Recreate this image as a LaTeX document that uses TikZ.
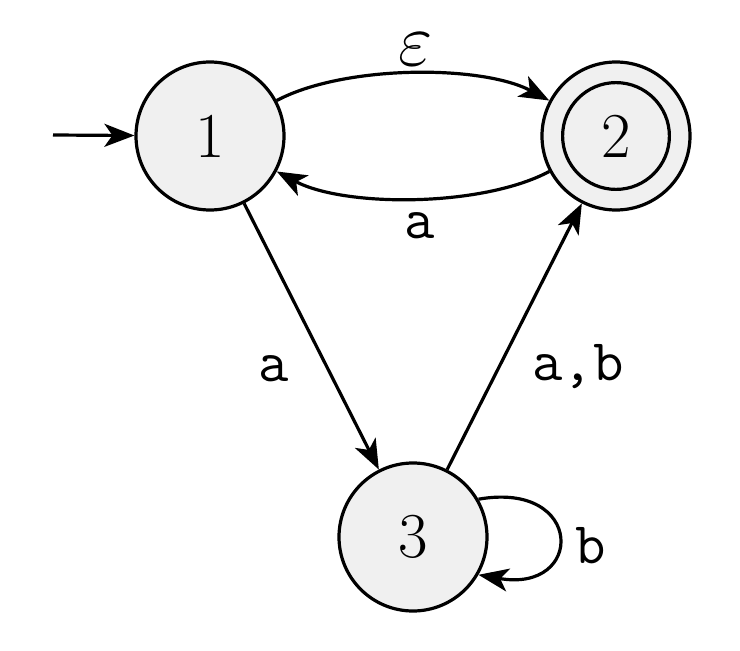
\documentclass[tikz,border=0pt]{standalone}
\usepackage{graphicx}
\usetikzlibrary{arrows.meta}
\definecolor{statefill}{RGB}{240,240,240}
\begin{document}
\begin{tikzpicture}[x=0.5pt,y=0.5pt,
  stateshape/.style={circle,draw,line width=1.6pt,fill=statefill,minimum size=74pt,inner sep=0pt,font=\fontsize{32}{38}\selectfont},
  edgelabel/.style={anchor=base,font=\fontsize{29.5}{34}\selectfont\ttfamily},
  arr/.style={line width=1.6pt,-{Stealth[length=15pt,width=11.5pt,inset=4pt]}}]
\useasboundingbox (0,0) rectangle (740,650);
\node[stateshape] (s1) at (210,514) {1};
\node[stateshape] (s2) at (616,514) {2};
\node[stateshape] (s3) at (413,113) {3};
\draw[line width=1.6pt] (s2.center) circle[radius=26.7pt];
\coordinate (init) at (53,515);
\draw[arr] (init) -- (s1);
\draw[arr] (s1) to[out=28,in=152,looseness=0.72] (s2);
\draw[arr] (s2) to[out=-152,in=-28,looseness=0.72] (s1);
\draw[arr] (s1) -- (s3);
\draw[arr] (s3) -- (s2);
\draw[arr] (s3.30) .. controls +(10:108) and +(-10:108) .. (s3.-30);
\node[edgelabel] (leps) at (416,585) {\scalebox{1.5}{$\varepsilon$}};
\node[edgelabel] (la1) at (420,412) {a};
\node[edgelabel] (la2) at (274,269) {a};
\node[edgelabel] (lab) at (578,270) {a,b};
\node[edgelabel] (lb) at (591,87) {b};
\end{tikzpicture}
\end{document}
